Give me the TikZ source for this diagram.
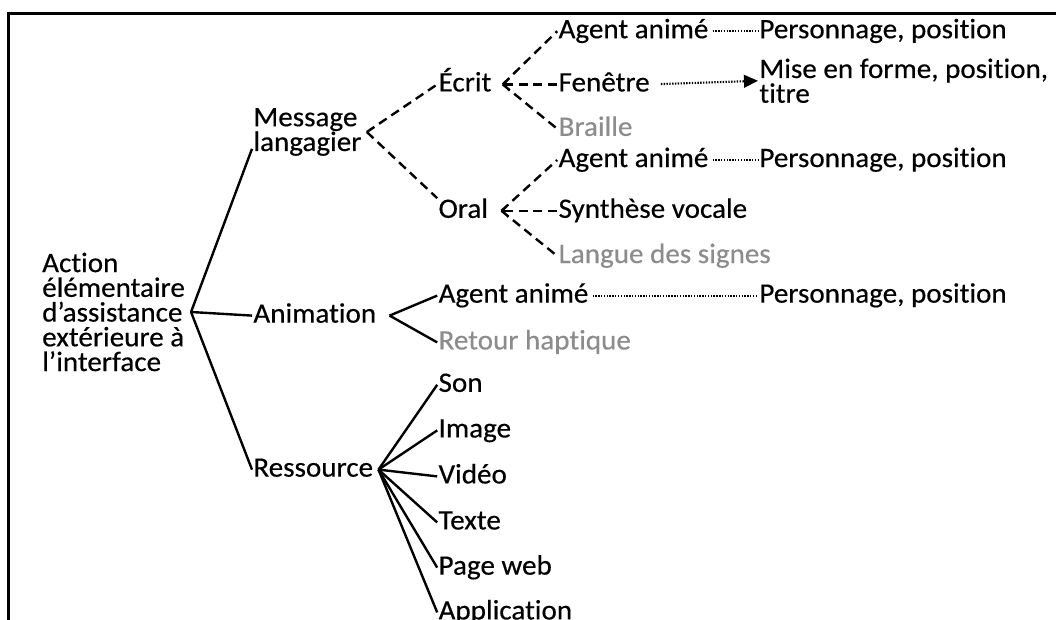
\documentclass[tikz,border=0pt]{standalone}
\usepackage{fontspec}
\setmainfont{Carlito}[FakeStretch=1.035, FakeBold=0.4, Ligatures=NoCommon]
\usepackage{tikz}
\usetikzlibrary{arrows.meta, calc}

\begin{document}
\begin{tikzpicture}[
            font=\fontsize{20}{17.6}\selectfont,
            lbl/.style={anchor=west, inner xsep=1pt, inner ysep=0pt, outer sep=0pt,
            text height=14pt, text depth=4pt},
            multi/.style={anchor=west, inner xsep=1pt, inner ysep=0pt, outer sep=0pt, align=left},
            faded/.style={lbl, text=black!45},
            branch/.style={line width=1.7pt},
            option/.style={line width=1.7pt, dash pattern=on 6.5pt off 4pt},
            attr/.style={line width=1.5pt, dash pattern=on 1pt off 1pt, shorten <=2pt},
            back/.style={-{Straight Barb[length=4pt, width=9pt, line width=1.2pt]}},
            frame/.style={line width=1.9pt}
        ]
            \useasboundingbox (0,0) rectangle (26.4,-15.5);
            % frame, cut at right and bottom
            \draw[frame] (26.6,-0.33) -- (0.21,-0.33) -- (0.21,-15.7);

            % Root
            \node[multi] (root) at (1.02,-7.8) {Action\\élémentaire\\d’assistance\\extérieure à\\l’interface};

            % First level
            \node[multi] (msg)  at (6.3,-3.3)   {Message\\langagier};
            \node[lbl]   (anim) at (6.3,-7.89)  {Animation};
            \node[lbl]   (res)  at (6.3,-11.74) {Ressource};

            % Message langagier
            \node[lbl]   (ecrit) at (10.93,-2.11) {Écrit};
            \node[lbl]   (oral)  at (10.93,-5.27) {Oral};
            \node[lbl]   (ag1)   at (13.93,-0.78) {Agent animé};
            \node[lbl]   (fen)   at (13.93,-2.11) {Fenêtre};
            \node[faded] (brl)   at (13.93,-3.22) {Braille};
            \node[lbl]   (ag2)   at (13.93,-4.0)  {Agent animé};
            \node[lbl]   (syn)   at (13.93,-5.27) {Synthèse vocale};
            \node[faded] (lsg)   at (13.93,-6.4)  {Langue des signes};
            \node[lbl]   (pers1) at (18.95,-0.78) {Personnage, position};
            \node[multi] (mise)  at (18.95,-2.02) {Mise en forme, position,\\titre};
            \node[lbl]   (pers2) at (18.95,-4.0)  {Personnage, position};

            % Animation
            \node[lbl]   (ag3)   at (10.93,-7.39) {Agent animé};
            \node[faded] (ret)   at (10.93,-8.56) {Retour haptique};
            \node[lbl]   (pers3) at (18.95,-7.39) {Personnage, position};

            % Ressource
            \node[lbl] (son) at (10.93,-9.62)  {Son};
            \node[lbl] (img) at (10.93,-10.76) {Image};
            \node[lbl] (vid) at (10.93,-11.91) {Vidéo};
            \node[lbl] (txt) at (10.93,-13.06) {Texte};
            \node[lbl] (web) at (10.93,-14.19) {Page web};
            \node[lbl] (app) at (10.93,-15.31) {Application};

            % Junctions
            \coordinate (rootj)  at ([xshift=0.12cm]root.east);
            \coordinate (msgj)   at ([xshift=0.1cm]msg.east);
            \coordinate (ecritj) at ([xshift=0.25cm]ecrit.east);
            \coordinate (oralj)  at ([xshift=0.3cm]oral.east);
            \coordinate (animj)  at ([xshift=0.3cm]anim.east);
            \coordinate (resj)   at ([xshift=0.1cm]res.east);

            % Root branches
            \draw[branch] (rootj) -- ([yshift=-0.42cm]msg.west);
            \draw[branch] (rootj) -- (anim.west);
            \draw[branch] (rootj) -- (res.west);

            % Written / spoken message
            \draw[option] (msgj) -- (ecrit.west);
            \draw[option] (msgj) -- (oral.north west);
            \draw[option, back] (fen.west) -- (ecritj);
            \draw[option] (ecritj) -- (ag1.west);
            \draw[option] (ecritj) -- (brl.west);
            \draw[option, back] (syn.west) -- (oralj);
            \draw[option] (oralj) -- (ag2.west);
            \draw[option] (oralj) -- (lsg.west);

            % Attributes
            \draw[attr] (ag1.east) -- (pers1.west);
            \draw[attr, shorten <=7pt, -{Triangle[length=10pt, width=9pt]}] (fen.east) -- (mise.west);
            \draw[attr] (ag2.east) -- (pers2.west);
            \draw[attr] (ag3.east) -- (pers3.west);

            % Animation
            \draw[branch] (animj) -- (ag3.west);
            \draw[branch] (animj) -- (ret.west);

            % Resources
            \foreach \leaf in {son, img, vid, txt, web, app}
                \draw[branch] (resj) -- (\leaf.west);

        \end{tikzpicture}
\end{document}
